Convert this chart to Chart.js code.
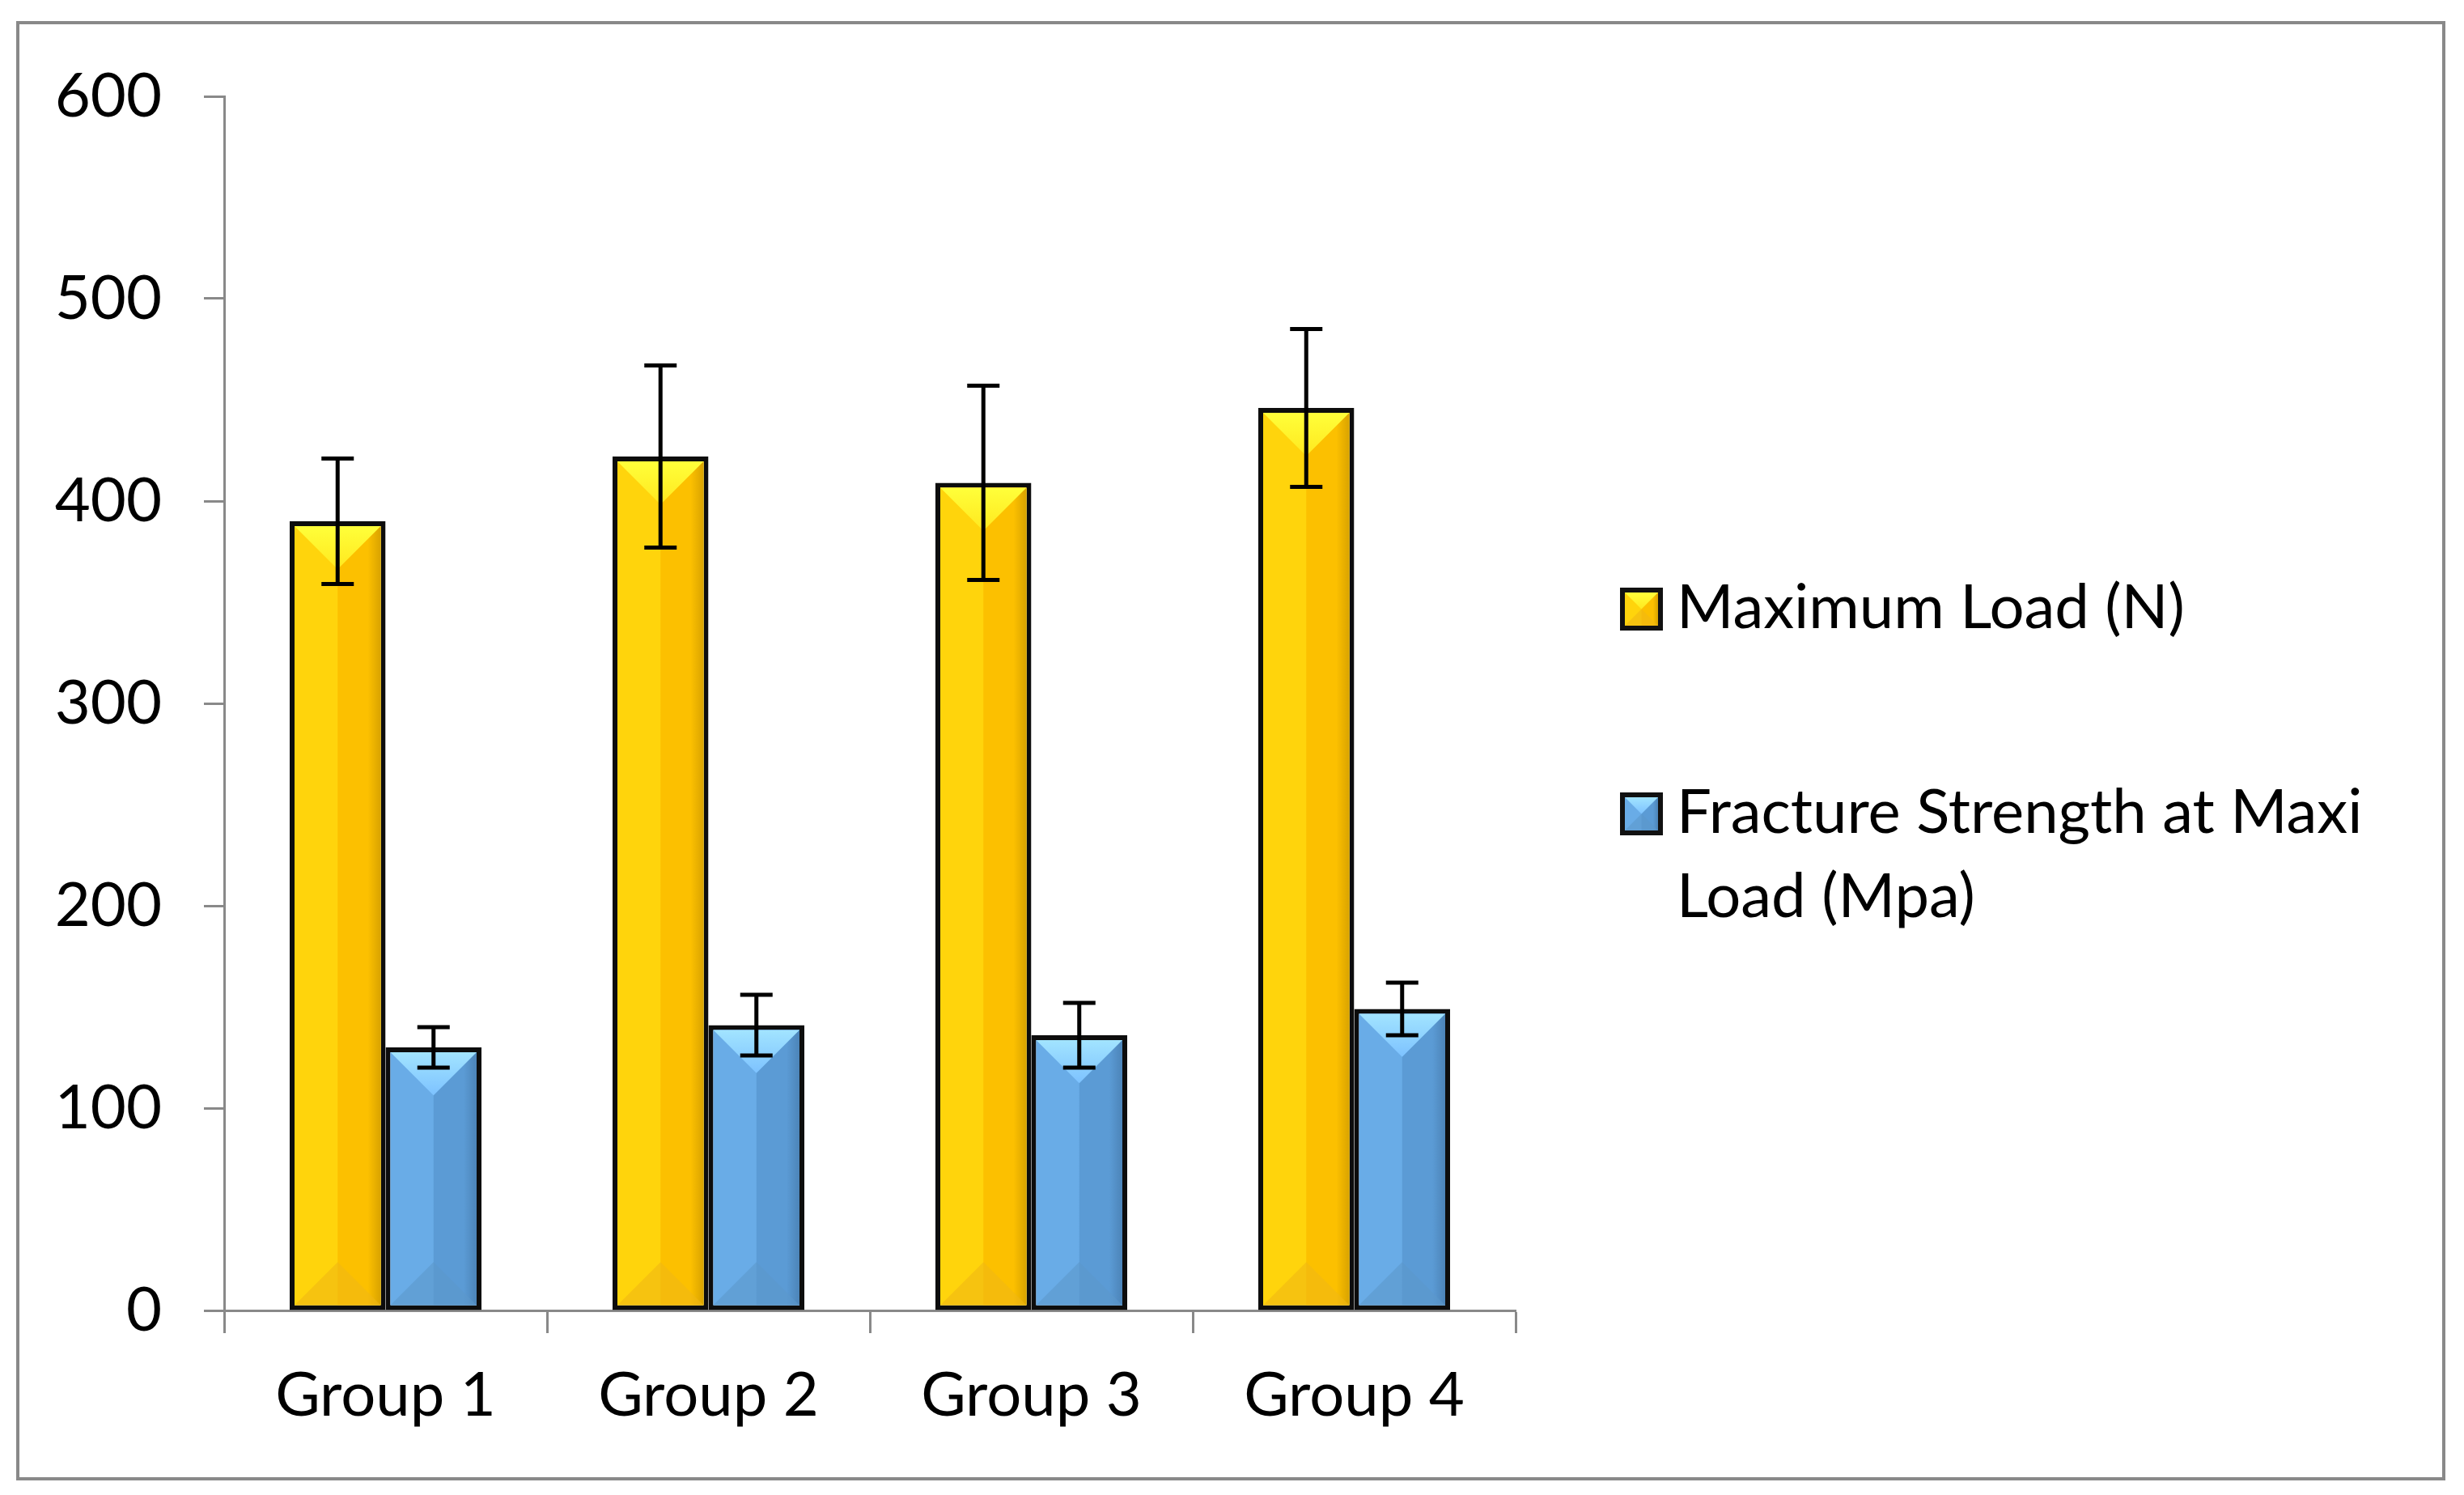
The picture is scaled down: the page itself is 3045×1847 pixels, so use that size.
<!DOCTYPE html>
<html>
<head>
<meta charset="utf-8">
<script src="https://cdn.jsdelivr.net/npm/chart.js@4.4.1/dist/chart.umd.min.js"></script>
<style>
  html, body { margin: 0; padding: 0; background: #fff; }
  #wrap { width: 3045px; height: 1847px; }
</style>
</head>
<body>
<div id="wrap"><canvas id="barChart" width="3045" height="1847"></canvas></div>
<script>
// Chart data
const GROUPS = ['Group 1', 'Group 2', 'Group 3', 'Group 4'];
const MAX_LOAD = [390, 422, 409, 446];
const MAX_LOAD_ERR = [31, 45, 48, 39];
const FRACTURE_STRENGTH = [130, 141, 136, 149];
const FRACTURE_STRENGTH_ERR = [10, 15, 16, 13];
const LEGEND_LINES = [['Maximum Load (N)'], ['Fracture Strength at Maxi', 'Load (Mpa)']];
const Y_TICKS = [0, 100, 200, 300, 400, 500, 600];

const FONT = 'Lato, "Open Sans", sans-serif';
const FONT_SIZE = 76;
const AXIS_GREY = '#898989';

// bevel colours for each series
const PALETTES = [
    { left: '#FFD40C', right: '#FCC000', edge: '#D9A300', topA: '#FFFF3A', topB: '#FFE81F', bottom: '#F0B814' },
    { left: '#69ACE7', right: '#5B9BD5', edge: '#4C84B8', topA: '#A2E4FF', topB: '#7DC2FF', bottom: '#5C97CC' }
];

/**
 * Paint the Excel-like bevel inside a rectangle
 */
function paintBevel(ctx, L, T, R, B, pal) {
    const W = R - L;
    const mid = L + W / 2;
    const half = W / 2;
    ctx.save();
    ctx.beginPath();
    ctx.rect(L, T, W, B - T);
    ctx.clip();

    ctx.fillStyle = pal.left;
    ctx.fillRect(L, T, W, B - T);

    // right half, getting darker at the edge
    const g = ctx.createLinearGradient(mid, 0, R, 0);
    g.addColorStop(0, pal.right);
    g.addColorStop(0.7, pal.right);
    g.addColorStop(1, pal.edge);
    ctx.fillStyle = g;
    ctx.fillRect(mid, T, R - mid, B - T);

    // bottom triangle
    ctx.fillStyle = pal.bottom;
    ctx.globalAlpha = 0.6;
    ctx.beginPath();
    ctx.moveTo(L, B);
    ctx.lineTo(R, B);
    ctx.lineTo(mid, B - half);
    ctx.closePath();
    ctx.fill();
    ctx.globalAlpha = 1;

    // top triangle
    const tg = ctx.createLinearGradient(0, T, 0, T + half);
    tg.addColorStop(0, pal.topA);
    tg.addColorStop(1, pal.topB);
    ctx.fillStyle = tg;
    ctx.beginPath();
    ctx.moveTo(L, T);
    ctx.lineTo(R, T);
    ctx.lineTo(mid, T + half);
    ctx.closePath();
    ctx.fill();
    ctx.restore();
}

const framePlugin = {
    id: 'frame',
    beforeDraw(chart) {
        const ctx = chart.ctx;
        ctx.save();
        ctx.fillStyle = '#fff';
        ctx.fillRect(0, 0, chart.width, chart.height);
        ctx.strokeStyle = AXIS_GREY;
        ctx.lineWidth = 4;
        ctx.strokeRect(22, 28, 2998, 1799);
        ctx.restore();
    }
};

const bevelPlugin = {
    id: 'bevel',
    afterDatasetsDraw(chart) {
        const ctx = chart.ctx;
        chart.data.datasets.forEach((ds, di) => {
            const meta = chart.getDatasetMeta(di);
            const bw = ds.borderWidth;
            meta.data.forEach(bar => {
                const p = bar.getProps(['x', 'y', 'base', 'width'], true);
                paintBevel(ctx, p.x - p.width / 2 + bw, p.y + bw, p.x + p.width / 2 - bw, p.base - bw, PALETTES[di]);
            });
        });
    }
};

const errorBarPlugin = {
    id: 'errorBars',
    afterDatasetsDraw(chart) {
        const ctx = chart.ctx;
        const y = chart.scales.y;
        const errs = [MAX_LOAD_ERR, FRACTURE_STRENGTH_ERR];
        ctx.save();
        ctx.strokeStyle = '#000';
        ctx.lineWidth = 5;
        chart.data.datasets.forEach((ds, di) => {
            const meta = chart.getDatasetMeta(di);
            meta.data.forEach((bar, i) => {
                const v = ds.data[i];
                const e = errs[di][i];
                const x = bar.x;
                const yTop = y.getPixelForValue(v + e);
                const yBot = y.getPixelForValue(v - e);
                ctx.beginPath();
                ctx.moveTo(x, yTop);
                ctx.lineTo(x, yBot);
                ctx.moveTo(x - 20, yTop);
                ctx.lineTo(x + 20, yTop);
                ctx.moveTo(x - 20, yBot);
                ctx.lineTo(x + 20, yBot);
                ctx.stroke();
            });
        });
        ctx.restore();
    }
};

const legendPlugin = {
    id: 'sideLegend',
    afterDraw(chart) {
        const ctx = chart.ctx;
        const boxX = 2002, boxSize = 53, textX = 2072, lineH = 104;
        const boxTops = [726, 979];
        ctx.save();
        ctx.font = FONT_SIZE + 'px ' + FONT;
        ctx.textBaseline = 'alphabetic';
        LEGEND_LINES.forEach((lines, i) => {
            const top = boxTops[i];
            ctx.fillStyle = '#111';
            ctx.fillRect(boxX, top, boxSize, boxSize);
            paintBevel(ctx, boxX + 6, top + 6, boxX + boxSize - 6, top + boxSize - 6, PALETTES[i]);
            ctx.fillStyle = '#000';
            lines.forEach((line, j) => {
                ctx.fillText(line, textX, top + 50 + j * lineH);
            });
        });
        ctx.restore();
    }
};

const ctx = document.getElementById('barChart').getContext('2d');
const chart = new Chart(ctx, {
    type: 'bar',
    data: {
        labels: GROUPS,
        datasets: [
            {
                label: LEGEND_LINES[0].join(' '),
                data: MAX_LOAD,
                backgroundColor: PALETTES[0].left,
                borderColor: '#0d0d0d',
                borderWidth: 6,
                borderSkipped: false,
                barPercentage: 1,
                categoryPercentage: 0.594
            },
            {
                label: LEGEND_LINES[1].join(' '),
                data: FRACTURE_STRENGTH,
                backgroundColor: PALETTES[1].left,
                borderColor: '#0d0d0d',
                borderWidth: 6,
                borderSkipped: false,
                barPercentage: 1,
                categoryPercentage: 0.594
            }
        ]
    },
    options: {
        responsive: false,
        devicePixelRatio: 1,
        animation: false,
        layout: {
            padding: { top: 119, right: 1172, bottom: 78, left: 0 }
        },
        plugins: {
            legend: { display: false },
            tooltip: { enabled: false }
        },
        scales: {
            x: {
                border: { color: AXIS_GREY, width: 3 },
                grid: {
                    offset: true,
                    drawOnChartArea: false,
                    tickLength: 28,
                    tickColor: AXIS_GREY,
                    tickWidth: 3
                },
                ticks: {
                    padding: 32,
                    color: '#000',
                    font: { family: FONT, size: FONT_SIZE }
                },
                afterFit: function(scale) {
                    scale.height = 150;
                }
            },
            y: {
                min: 0,
                max: 600,
                afterBuildTicks: function(scale) {
                    scale.ticks = Y_TICKS.map(v => ({ value: v }));
                },
                border: { color: AXIS_GREY, width: 3 },
                grid: {
                    drawOnChartArea: false,
                    tickLength: 25,
                    tickColor: AXIS_GREY,
                    tickWidth: 3
                },
                ticks: {
                    padding: 52,
                    color: '#000',
                    font: { family: FONT, size: FONT_SIZE }
                },
                afterFit: function(scale) {
                    scale.width = 277;
                }
            }
        }
    },
    plugins: [framePlugin, bevelPlugin, errorBarPlugin, legendPlugin]
});
</script>
</body>
</html>
